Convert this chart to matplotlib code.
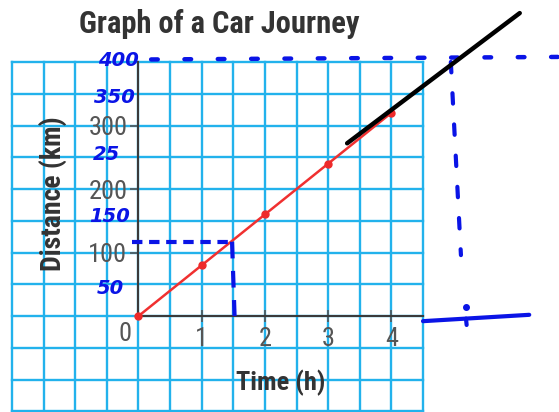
import numpy as np
import matplotlib
matplotlib.use("Agg")
import matplotlib.pyplot as plt
from matplotlib import font_manager as fm

# ---- data ----
time_h = [0, 1, 2, 3, 4]
distance_km = [0, 80, 160, 240, 320]
x_ticks = [1, 2, 3, 4]
y_ticks = [100, 200, 300]
title = "Graph of a Car Journey"
xlabel = "Time (h)"
ylabel = "Distance (km)"

# handwritten annotations (data coordinates)
hand_labels = ["400", "350", "25", "150", "50"]
hand_label_t = [-0.32, -0.38, -0.5, -0.45, -0.45]
hand_label_d = [403, 344, 254, 157, 44]
ext_time = [3.3, 6.03]
ext_dist = [272, 477]
top_dot_t = [0.2, 6.65]
top_dot_d = [404, 408]
right_dot_t = [4.94, 5.1]
right_dot_d = [400, 96]
right_dot_extra_t = [5.18]
right_dot_extra_d = [14]
base_line_t = [4.5, 6.18]
base_line_d = [-8, 2]
base_tick_t = [5.18, 5.19]
base_tick_d = [-4, -14]
mark_h_t = [-0.1, 1.48]
mark_h_d = [117, 117]
mark_v_t = [1.48, 1.52]
mark_v_d = [117, 0]

names = {f.name for f in fm.fontManager.ttflist}
narrow = next((n for n in ["Liberation Sans Narrow", "DejaVu Sans Condensed",
                           "Roboto Condensed", "Liberation Sans"] if n in names), "DejaVu Sans")

W, H = 559, 412
fig = plt.figure(figsize=(W / 100, H / 100), dpi=100)
fig.patch.set_facecolor("white")
ax = fig.add_axes([12 / W, 0, (423 - 12) / W, (412 - 62) / H])
ax.set_xlim(-2, 4.5)
ax.set_ylim(-151, 400)

grid_c = "#22b2ec"
for xv in np.arange(-2, 4.51, 0.5):
    ax.axvline(xv, color=grid_c, lw=1.7, zorder=0, clip_on=False)
for yv in np.arange(-150, 400.1, 50):
    ax.axhline(yv, color=grid_c, lw=1.7, zorder=0, clip_on=False)

for s in ["top", "right"]:
    ax.spines[s].set_visible(False)
ax.spines["left"].set_position(("data", 0))
ax.spines["bottom"].set_position(("data", 0))
ax.spines["left"].set_bounds(0, 400)
ax.spines["bottom"].set_bounds(0, 4.5)
for s in ["left", "bottom"]:
    ax.spines[s].set_color("#3a3a3a")
    ax.spines[s].set_linewidth(1.5)
    ax.spines[s].set_zorder(2)

ax.set_xticks(x_ticks)
ax.set_yticks(y_ticks)
ax.tick_params(axis="x", direction="inout", length=9, width=1.2, color="#555555",
               labelsize=19, labelcolor="#555555", pad=3)
ax.tick_params(axis="y", direction="out", length=6, width=1.2, color="#555555",
               labelsize=19, labelcolor="#555555", pad=2)
for lab in ax.get_xticklabels() + ax.get_yticklabels():
    lab.set_fontfamily(narrow)
ax.text(-0.22, -28, "0", ha="center", va="center", fontsize=19, color="#555555",
        family=narrow)

ax.plot(time_h, distance_km, color="#f03030", lw=1.8, zorder=3, clip_on=False)
ax.plot(time_h, distance_km, "o", color="#ee2a2a", ms=5, zorder=4, clip_on=False)

fig.text(219 / W, 1 - 24 / H, title, ha="center", va="center", fontsize=22,
         fontweight="bold", color="#333333", family=narrow)
fig.text(281 / W, 1 - 383 / H, xlabel, ha="center", va="center", fontsize=19,
         fontweight="bold", color="#333333", family=narrow)
fig.text(53 / W, 1 - 194 / H, ylabel, ha="center", va="center", fontsize=20,
         fontweight="bold", color="#333333", family=narrow, rotation=90)

# handwritten annotations
blue = "#0a14e6"
for lab, t, d in zip(hand_labels, hand_label_t, hand_label_d):
    ax.text(t, d, lab, color=blue, fontsize=14, fontweight="bold", style="italic",
            ha="center", va="center", zorder=6, clip_on=False)
ax.plot(ext_time, ext_dist, color="black", lw=3.2, solid_capstyle="round",
        zorder=7, clip_on=False)
ax.plot(top_dot_t, top_dot_d, color=blue, lw=3.2, ls=(0, (1.5, 6)),
        dash_capstyle="round", zorder=6, clip_on=False)
ax.plot(right_dot_t, right_dot_d, color=blue, lw=3, ls=(0, (2.5, 5)),
        dash_capstyle="round", zorder=6, clip_on=False)
ax.plot(right_dot_extra_t, right_dot_extra_d, "o", color=blue, ms=4, zorder=6,
        clip_on=False)
ax.plot(base_line_t, base_line_d, color=blue, lw=3, solid_capstyle="round",
        zorder=6, clip_on=False)
ax.plot(base_tick_t, base_tick_d, color=blue, lw=3, solid_capstyle="round",
        zorder=6, clip_on=False)
ax.plot(mark_h_t, mark_h_d, color=blue, lw=3, ls=(0, (2.5, 1.6)),
        zorder=6, clip_on=False)
ax.plot(mark_v_t, mark_v_d, color=blue, lw=3, ls=(0, (4, 3)),
        zorder=6, clip_on=False)

fig.savefig("out.png", dpi=100, facecolor="white")
